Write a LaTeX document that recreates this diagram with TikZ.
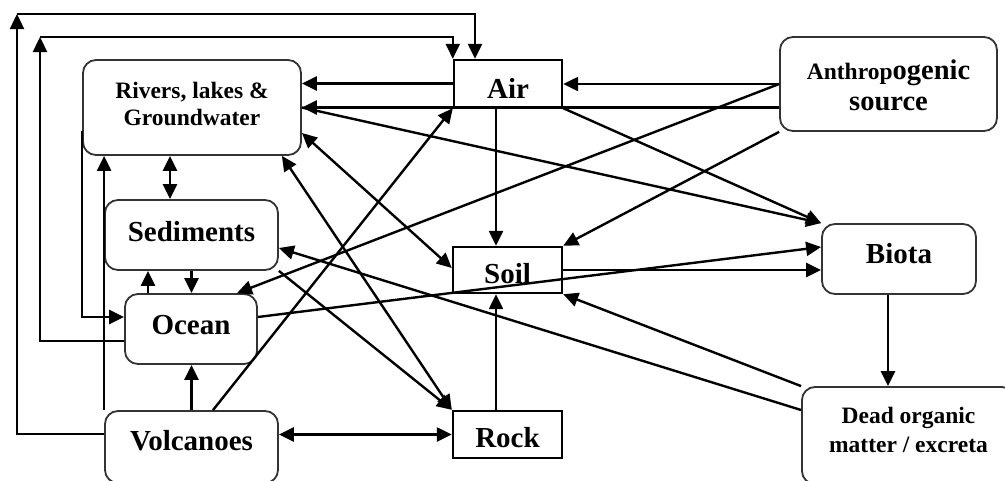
\documentclass[tikz,border=0pt]{standalone}
\usepackage{fontspec}
\setmainfont{Liberation Serif}
\usetikzlibrary{arrows.meta}
\begin{document}
\begin{tikzpicture}[x=1pt,y=-1pt,
  rbox/.style={draw=black!80, line width=1.8pt, rounded corners=13pt, inner sep=0pt, align=center, text depth=0pt, font=\bfseries\fontsize{29}{31}\selectfont},
  sbox/.style={draw=black, line width=2.4pt, inner sep=0pt, align=center, text depth=0pt, font=\bfseries\fontsize{29}{31}\selectfont},
  conn/.style={line width=2.4pt, -{Triangle[length=15pt,width=14pt]}},
  conn2/.style={line width=2.4pt, {Triangle[length=15pt,width=14pt]}-{Triangle[length=15pt,width=14pt]}}
]
\useasboundingbox (0,0) rectangle (1005,480);
% nodes
\node[rbox, minimum width=218pt, minimum height=95pt, text height=35pt, text depth=0pt, font=\bfseries\fontsize{23.5}{27}\selectfont] (riv) at (192,107.5) {Rivers, lakes \&\\Groundwater};
\node[sbox, minimum width=108pt, minimum height=47pt, text height=30pt] (air) at (508,83.5) {Air};
\node[rbox, minimum width=217pt, minimum height=94pt, text height=52pt, text depth=0pt, font=\bfseries\fontsize{28.5}{31}\selectfont] (anth) at (888.5,84) {{\fontsize{23.5}{31}\selectfont Anthrop}ogenic\\source};
\node[rbox, minimum width=173pt, minimum height=70pt, text height=12pt] (sed) at (191.5,235) {Sediments};
\node[rbox, minimum width=132pt, minimum height=70pt, text height=10pt] (oce) at (191,329) {Ocean};
\node[sbox, minimum width=109pt, minimum height=46pt, text height=26pt] (soil) at (507.5,270) {Soil};
\node[rbox, minimum width=154pt, minimum height=70pt, text height=8pt] (bio) at (899,259) {Biota};
\node[rbox, minimum width=213pt, minimum height=97pt, text height=33pt, text depth=0pt, font=\bfseries\fontsize{23.5}{29}\selectfont] (dead) at (908.5,435.5) {Dead organic\\matter / excreta};
\node[rbox, minimum width=173pt, minimum height=72pt, text height=6pt] (volc) at (191.5,447) {Volcanoes};
\node[sbox, minimum width=109pt, minimum height=47pt, text height=25pt] (rock) at (507.5,434.5) {Rock};
\coordinate (c1) at (17,14);
\coordinate (c2) at (40,37);
% connectors
\draw[conn] ([yshift=13pt]volc.west) -| (c1);
\draw[conn] (c1) -| ([xshift=-33pt]air.north);
\draw[conn] ([yshift=-12pt]oce.west) -| (c2);
\draw[conn] (c2) -| (air.north west);
\draw[conn2] ([xshift=-22pt]riv.south) -- ([xshift=-21.5pt]sed.north);
\draw[conn] ([yshift=-23.5pt]riv.west) |- ([yshift=12pt]oce.west);
\draw[conn] (volc.north west) -- (volc.north west |- riv.south);
\draw[conn] ([xshift=-43pt]oce.north) -- ([xshift=-43.5pt]sed.south);
\draw[conn] (sed.south) -- (sed.south |- oce.north);
\draw[conn] (volc.north) -- (volc.north |- oce.south);
\draw[conn] ([xshift=21.5pt]volc.north) -- (air.south west);
\draw[conn2] (rock.west -| volc.east) -- (rock.west);
\draw[conn] ([xshift=-11.5pt]rock.north) -- ([xshift=-11.5pt]soil.south);
\draw[conn] ([xshift=-12pt]air.south) -- ([xshift=-11.5pt]soil.north);
\draw[conn] (air.west) -- (air.west -| riv.east);
\draw[conn] (anth.west) -- (anth.west -| air.east);
\draw[conn] ([yshift=-23.5pt]anth.west) -- (riv.east);
\draw[conn] (anth.west) -- ([xshift=46pt]oce.north);
\draw[conn] (anth.south west) -- (soil.north east);
\draw[conn] (air.south east) -- (bio.north west);
\draw[conn] (riv.east) -- (bio.north west);
\draw[conn2] ([yshift=-25.5pt]riv.east) -- ([yshift=2pt]soil.west);
\draw[conn2] ([xshift=-20pt]riv.south east) -- (rock.north west);
\draw[conn] (sed.south east) -- (rock.north west);
\draw[conn] ([yshift=25.5pt]dead.west) -- ([yshift=-13pt]sed.east);
\draw[conn] (dead.north west) -- (soil.south east);
\draw[conn] (soil.east) -- (soil.east -| bio.west);
\draw[conn] ([yshift=12pt]oce.east) -- ([yshift=12pt]bio.west);
\draw[conn] ([xshift=-11pt]bio.south) -- ([xshift=-20.5pt]dead.north);
\end{tikzpicture}
\end{document}
